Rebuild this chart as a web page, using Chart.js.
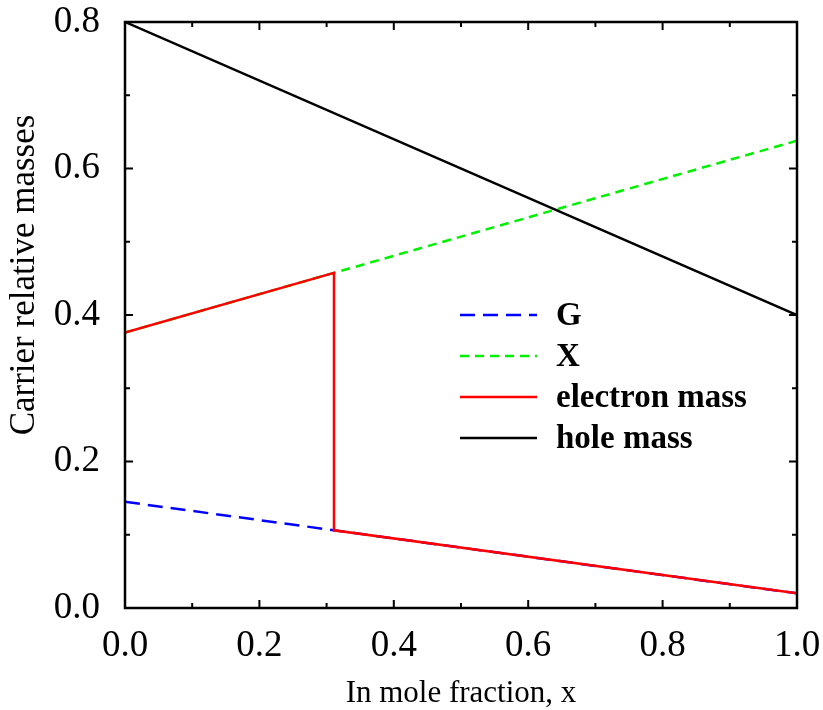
<!DOCTYPE html>
<html>
<head>
<meta charset="utf-8">
<script src="https://cdn.jsdelivr.net/npm/chart.js@4/dist/chart.umd.min.js"></script>
<style>
  html, body { margin: 0; padding: 0; background: #fff; }
  #wrap { width: 823px; height: 710px; }
</style>
</head>
<body>
<div id="wrap"><canvas id="mass-chart" width="823" height="710"></canvas></div>
<script>
// values
const xEnds = [0, 1];
const gammaMass = [0.145, 0.020];
const xValleyMass = [0.376, 0.638];
const holeMass = [0.8, 0.4];
const electronX = [0, 0.311, 0.311, 1];
const electronMass = [0.376, 0.4575, 0.106, 0.020];
const xTicks = [0, 0.2, 0.4, 0.6, 0.8, 1.0];
const yTicks = [0, 0.2, 0.4, 0.6, 0.8];
const labels = ['G', 'X', 'electron mass', 'hole mass'];

const serif = "'Liberation Serif', 'Times New Roman', serif";

const toPoints = (xs, ys) => xs.map((x, i) => ({ x: x, y: ys[i] }));

// frame + inward ticks on all four sides, axis titles, legend
const frameAndLegend = {
  id: 'frameAndLegend',
  afterDatasetsDraw(chart) {
    const { ctx, chartArea: { left, top, right, bottom }, scales } = chart;
    ctx.save();
    ctx.strokeStyle = '#000';
    ctx.lineWidth = 2.5;
    ctx.strokeRect(left, top, right - left, bottom - top);

    ctx.lineWidth = 2;
    ctx.beginPath();
    for (let v = 0; v <= 10; v++) {
      const len = v % 2 === 0 ? 8 : 5;
      const px = scales.x.getPixelForValue(v / 10);
      ctx.moveTo(px, bottom); ctx.lineTo(px, bottom - len);
      ctx.moveTo(px, top); ctx.lineTo(px, top + len);
    }
    for (let v = 0; v <= 8; v++) {
      const len = v % 2 === 0 ? 8 : 5;
      const py = scales.y.getPixelForValue(v / 10);
      ctx.moveTo(left, py); ctx.lineTo(left + len, py);
      ctx.moveTo(right, py); ctx.lineTo(right - len, py);
    }
    ctx.stroke();

    // legend
    ctx.font = 'bold 33px ' + serif;
    ctx.textBaseline = 'middle';
    ctx.textAlign = 'left';
    chart.data.datasets.forEach((ds, i) => {
      const y = 315 + i * 41;
      ctx.strokeStyle = ds.borderColor;
      ctx.lineWidth = ds.borderWidth;
      ctx.setLineDash(ds.borderDash || []);
      ctx.beginPath();
      ctx.moveTo(460, y);
      ctx.lineTo(537, y);
      ctx.stroke();
      ctx.setLineDash([]);
      ctx.fillStyle = '#000';
      ctx.fillText(ds.label, 556, y + 1);
    });

    // axis titles
    ctx.fillStyle = '#000';
    ctx.textAlign = 'center';
    ctx.textBaseline = 'alphabetic';
    ctx.font = '31px ' + serif;
    ctx.fillText('In mole fraction, x', (left + right) / 2, 702);
    ctx.font = '35px ' + serif;
    ctx.translate(34, 275);
    ctx.rotate(-Math.PI / 2);
    ctx.fillText('Carrier relative masses', 0, 0);
    ctx.restore();
  },
};

const massConfig = {
  type: 'line',
  data: {
    datasets: [
      {
        label: labels[0],
        data: toPoints(xEnds, gammaMass),
        borderColor: '#0000ff',
        borderWidth: 2.5,
        borderDash: [15, 8],
        order: 2,
      },
      {
        label: labels[1],
        data: toPoints(xEnds, xValleyMass),
        borderColor: '#00f000',
        borderWidth: 2.5,
        borderDash: [9, 6],
        order: 3,
      },
      {
        label: labels[2],
        data: toPoints(electronX, electronMass),
        borderColor: '#ff0000',
        borderWidth: 2.5,
        order: 0,
      },
      {
        label: labels[3],
        data: toPoints(xEnds, holeMass),
        borderColor: '#000000',
        borderWidth: 2.5,
        order: 1,
      },
    ],
  },
  options: {
    responsive: false,
    animation: false,
    elements: { point: { radius: 0 }, line: { tension: 0 } },
    layout: { padding: { top: 22, right: 26, left: 0, bottom: 0 } },
    plugins: {
      legend: { display: false },
      tooltip: { enabled: false },
    },
    scales: {
      x: {
        type: 'linear',
        min: 0,
        max: 1,
        afterFit: (scale) => {
          scale.height = 102;
          scale.paddingLeft = 0;
          scale.paddingRight = 0;
        },
        afterBuildTicks: (scale) => { scale.ticks = xTicks.map((v) => ({ value: v })); },
        grid: { display: false, drawTicks: false },
        border: { display: false },
        ticks: {
          color: '#000',
          padding: 16,
          maxRotation: 0,
          font: { family: serif, size: 37 },
          callback: (v) => Number(v).toFixed(1),
        },
      },
      y: {
        type: 'linear',
        min: 0,
        max: 0.8,
        afterFit: (scale) => {
          scale.width = 125;
          scale.paddingTop = 0;
          scale.paddingBottom = 0;
        },
        afterBuildTicks: (scale) => { scale.ticks = yTicks.map((v) => ({ value: v })); },
        grid: { display: false, drawTicks: false },
        border: { display: false },
        ticks: {
          color: '#000',
          padding: 25,
          font: { family: serif, size: 37 },
          callback: (v) => Number(v).toFixed(1),
        },
      },
    },
  },
  plugins: [frameAndLegend],
};

const ctxMass = document.getElementById('mass-chart').getContext('2d');
const massChart = new Chart(ctxMass, massConfig);
</script>
</body>
</html>
